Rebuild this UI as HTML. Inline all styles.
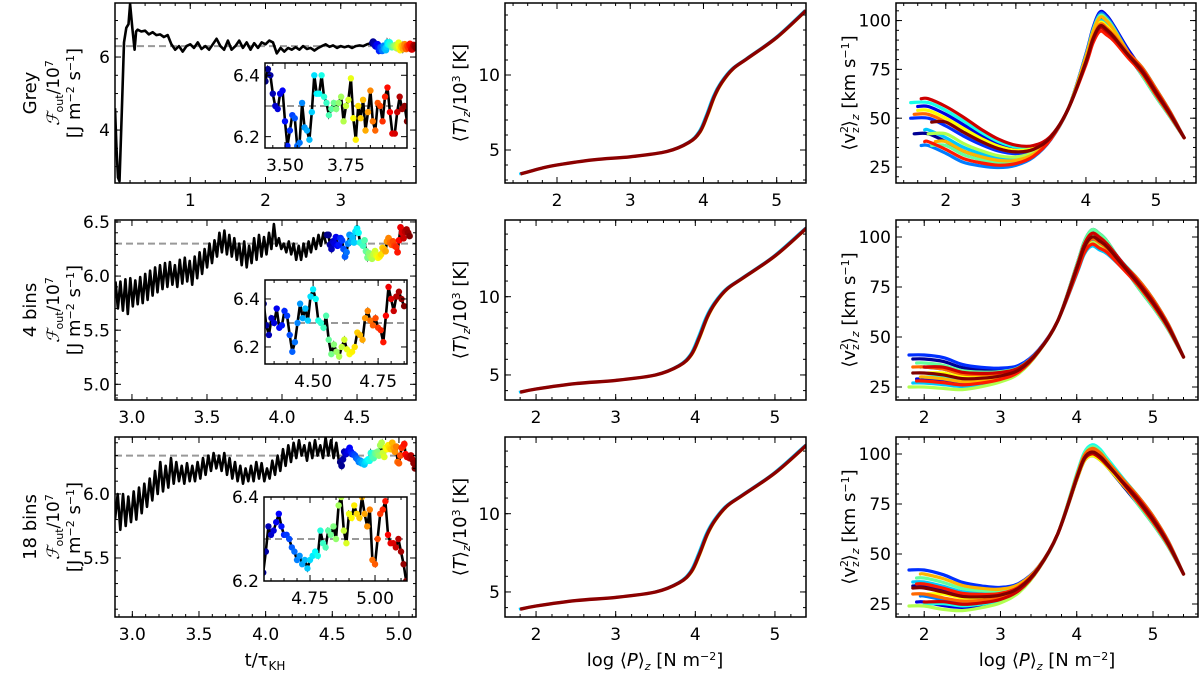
<!DOCTYPE html>
<html><head><meta charset="utf-8"><style>
html,body{margin:0;padding:0;background:#fff;}
svg{display:block;font-family:"DejaVu Sans","Liberation Sans",sans-serif;}
</style></head><body>
<svg id="fig" width="1200" height="674" viewBox="0 0 1200 674" xmlns="http://www.w3.org/2000/svg"></svg>
<script>
// ---------- DATA ----------
const greyEarlyT = [0,0.02,0.04,0.06,0.09,0.12,0.15,0.18,0.20,0.23,0.26,0.28];
const greyEarlyF = [4.6,3.5,2.7,2.6,4.5,6.4,6.8,6.9,7.45,6.8,6.2,6.7];
const greyT0 = 0.30, greyDt = 0.05;
const greyF = [6.75,6.7,6.72,6.62,6.68,6.6,6.62,6.55,6.6,6.35,6.2,6.3,6.15,6.3,6.35,6.25,6.4,6.22,6.3,6.2,6.35,6.5,6.3,6.2,6.45,6.2,6.3,6.45,6.25,6.4,6.2,6.38,6.25,6.4,6.35,6.45,6.4,6.1,6.25,6.15,6.25,6.2,6.27,6.2,6.3,6.22,6.25,6.18,6.25,6.3,6.35,6.28,6.32,6.25,6.3,6.27,6.3,6.25,6.3,6.32,6.3,6.35,6.38,6.4];
const greyColT0 = 3.42, greyColDt = 0.01;
const greyColF = [6.38,6.42,6.40,6.34,6.30,6.29,6.34,6.35,6.25,6.17,6.22,6.27,6.26,6.17,6.18,6.31,6.23,6.22,6.19,6.28,6.40,6.34,6.34,6.40,6.33,6.31,6.27,6.29,6.31,6.29,6.31,6.33,6.25,6.30,6.32,6.39,6.26,6.19,6.30,6.26,6.32,6.22,6.28,6.35,6.25,6.22,6.31,6.30,6.25,6.33,6.36,6.28,6.21,6.21,6.28,6.33,6.29,6.30,6.25];
const bin4T0 = 2.89, bin4Dt = 0.0165;
const bin4F = [5.95,5.70,5.95,5.68,5.97,5.65,5.98,5.72,5.96,5.74,5.99,5.75,6.02,5.78,6.05,5.82,6.08,5.85,6.10,5.88,6.12,5.90,6.13,5.92,6.10,5.90,6.15,5.93,6.17,5.95,6.14,5.92,6.18,5.98,6.22,6.02,6.25,6.08,6.30,6.12,6.33,6.18,6.40,6.22,6.42,6.20,6.38,6.18,6.35,6.15,6.30,6.10,6.32,6.08,6.28,6.12,6.35,6.15,6.38,6.18,6.36,6.20,6.40,6.25,6.48,6.28,6.35,6.25,6.30,6.22,6.32,6.20,6.30,6.15,6.28,6.15,6.30,6.18,6.32,6.22,6.35,6.25,6.38,6.28,6.40,6.30];
const bin4ColT0 = 4.30, bin4ColDt = 0.01;
const bin4ColF = [6.38,6.38,6.29,6.25,6.32,6.30,6.36,6.28,6.29,6.35,6.33,6.25,6.18,6.22,6.30,6.38,6.32,6.36,6.31,6.41,6.44,6.40,6.31,6.30,6.28,6.33,6.23,6.17,6.21,6.18,6.16,6.20,6.23,6.19,6.17,6.18,6.20,6.26,6.25,6.23,6.32,6.35,6.31,6.29,6.32,6.28,6.27,6.22,6.33,6.45,6.40,6.35,6.41,6.43,6.40,6.37];
const bin18T0 = 2.87, bin18Dt = 0.02;
const bin18F = [5.80,6.00,5.72,6.00,5.75,5.98,5.78,6.02,5.80,6.05,5.85,6.08,5.90,6.12,5.95,6.18,6.00,6.25,6.02,6.22,6.05,6.28,6.08,6.25,6.10,6.22,6.08,6.24,6.10,6.22,6.10,6.25,6.12,6.28,6.15,6.30,6.18,6.32,6.20,6.30,6.18,6.32,6.15,6.28,6.12,6.25,6.10,6.22,6.08,6.20,6.10,6.22,6.10,6.25,6.12,6.24,6.10,6.20,6.12,6.26,6.15,6.30,6.18,6.35,6.22,6.38,6.25,6.40,6.28,6.42,6.30,6.38,6.26,6.40,6.28,6.42,6.30,6.38,6.28,6.44,6.30,6.42,6.28,6.40,6.25];
const bin18ColT0 = 4.56, bin18ColDt = 0.01;
const bin18ColF = [6.25,6.22,6.27,6.33,6.31,6.32,6.34,6.36,6.33,6.31,6.31,6.30,6.28,6.27,6.25,6.26,6.24,6.25,6.23,6.25,6.26,6.27,6.26,6.32,6.29,6.28,6.32,6.31,6.33,6.30,6.38,6.40,6.32,6.29,6.36,6.35,6.38,6.36,6.35,6.40,6.36,6.33,6.37,6.25,6.24,6.30,6.36,6.37,6.39,6.31,6.29,6.29,6.28,6.30,6.27,6.24,6.20];
const targetFlux = 6.3;
const tempLogP = [1.5,1.8,2.0,2.5,3.0,3.5,3.8,3.95,4.05,4.15,4.25,4.4,4.6,5.0,5.4];
const tempRow1 = [3.4,3.8,4.0,4.35,4.55,4.9,5.5,6.2,7.3,8.6,9.5,10.4,11.1,12.5,14.3];
const tempRow23 = [3.4,3.9,4.1,4.45,4.65,5.0,5.6,6.3,7.4,8.7,9.6,10.5,11.2,12.6,14.4];
const velLogP = [1.5,1.75,2.0,2.25,2.5,2.75,3.0,3.25,3.5,3.75,4.0,4.1,4.2,4.3,4.4,4.6,4.8,5.0,5.2,5.4];
const velRow1 = [50,48,44,39,35,32,31,33,40,55,80,92,99,97,93,83,74,63,52,40];
const velRow2 = [32,32,33,32,30,30,31,34,43,58,84,95,100,98,95,86,77,67,55,40];
const velRow3 = [32,32,32,30,28,28,29,33,43,60,88,98,101,99,95,86,77,67,55,40];
const velRow1Start = [1.55,1.6,1.5,1.65,1.7,1.5,1.8,1.75,1.6,1.85,1.55,1.7,1.65,1.8];
const velRow1Low = [-6,8,2,-12,-4,10,-8,-2,6,-6,4,-10,12,4];
const velRow1Peak = [2,6,-3,5,1,-2,4,-4,0,3,-1,-5,-3,-2];
const velRow23Start = [1.85,1.9,1.8,1.95,1.85,2.0,1.9,1.8,2.05,1.95,1.85,1.9,2.0,1.85];
const velRow2Low = [6,-4,8,2,-6,-2,4,-8,0,-3,2,-5,3,-1];
const velRow2Peak = [4,2,-2,3,-5,1,4,-3,0,2,-1,-4,2,0];
const velRow3Low = [2,-6,10,-3,4,-5,6,-8,0,8,-2,3,-4,1];
const velRow3Peak = [-2,0,2,3,-1,4,3,1,-2,1,2,0,-1,0];
const velTailSpread = [-2,1,2,-1,0,2,-2,1,-1,0,2,-1,1,0];

// ---------- HELPERS ----------
const svg = document.getElementById('fig');
const NS = 'http://www.w3.org/2000/svg';
function mk(tag, attrs, parent){const e=document.createElementNS(NS,tag);for(const k in attrs)e.setAttribute(k,attrs[k]);(parent||svg).appendChild(e);return e;}
function jet(t){t=Math.max(0,Math.min(1,t));const r=Math.min(4*t-1.5,-4*t+4.5),g=Math.min(4*t-0.5,-4*t+3.5),b=Math.min(4*t+0.5,-4*t+2.5);const c=v=>Math.round(255*Math.max(0,Math.min(1,v)));return `rgb(${c(r)},${c(g)},${c(b)})`;}
let clipId=0;
function axes(o){
  const sx=v=>o.x0+(v-o.xmin)/(o.xmax-o.xmin)*(o.x1-o.x0);
  const sy=v=>o.y1-(v-o.ymin)/(o.ymax-o.ymin)*(o.y1-o.y0);
  const g=mk('g',{});
  
  
  const id='c'+(clipId++);
  const cp=mk('clipPath',{id:id},g);mk('rect',{x:o.x0,y:o.y0,width:o.x1-o.x0,height:o.y1-o.y0},cp);
  const plot=mk('g',{'clip-path':`url(#${id})`},g);
  return {sx,sy,g,plot,o};
}
function frame(A){
  const o=A.o,g=A.g,fs=o.fs||17;
  const tk=mk('g',{stroke:'#000','stroke-width':1},g);
  
  
  const eps=1e-9;
  if(o.xminor){for(let v=Math.ceil(o.xmin/o.xminor)*o.xminor;v<=o.xmax+eps;v+=o.xminor){const x=A.sx(v);mk('line',{x1:x,x2:x,y1:o.y1,y2:o.y1-3},tk);mk('line',{x1:x,x2:x,y1:o.y0,y2:o.y0+3},tk);}}
  if(o.yminor){for(let v=Math.ceil(o.ymin/o.yminor)*o.yminor;v<=o.ymax+eps;v+=o.yminor){const y=A.sy(v);mk('line',{x1:o.x0,x2:o.x0+3,y1:y,y2:y},tk);mk('line',{x1:o.x1,x2:o.x1-3,y1:y,y2:y},tk);}}
  o.xt.forEach((v,i)=>{const x=A.sx(v);mk('line',{x1:x,x2:x,y1:o.y1,y2:o.y1-6},tk);mk('line',{x1:x,x2:x,y1:o.y0,y2:o.y0+6},tk);
    const t=mk('text',{x:x,y:o.y1+fs+6,'text-anchor':'middle','font-size':fs},g);t.textContent=o.xl[i];
    });
  o.yt.forEach((v,i)=>{const y=A.sy(v);mk('line',{x1:o.x0,x2:o.x0+6,y1:y,y2:y},tk);mk('line',{x1:o.x1,x2:o.x1-6,y1:y,y2:y},tk);
    const t=mk('text',{x:o.x0-5,y:y+fs*0.36,'text-anchor':'end','font-size':fs},g);t.textContent=o.yl[i];
    });
  const r=mk('rect',{x:o.x0,y:o.y0,width:o.x1-o.x0,height:o.y1-o.y0,fill:'none',stroke:'#000','stroke-width':1.5},g);
  
}
function pathD(A,xs,ys){return xs.map((x,i)=>(i?'L':'M')+A.sx(x).toFixed(1)+','+A.sy(ys[i]).toFixed(1)).join('');}
function seq(t0,dt,n){const a=[];for(let i=0;i<n;i++)a.push(t0+i*dt);return a;}
function dashed(A,v){const o=A.o;const l=mk('line',{x1:o.x0,x2:o.x1,y1:A.sy(v),y2:A.sy(v),stroke:'#999','stroke-width':2,'stroke-dasharray':'7,4'},A.plot);
  }
function fluxPanel(A, blackT, blackF, colT, colF, rad){
  dashed(A,targetFlux);
  const p=mk('path',{d:pathD(A,blackT,blackF),fill:'none',stroke:'#000','stroke-width':2.6,'stroke-linejoin':'round'},A.plot);
  
  const p2=mk('path',{d:pathD(A,colT,colF),fill:'none',stroke:'#000','stroke-width':2.6},A.plot);
  
  colT.forEach((t,i)=>{const c=mk('circle',{cx:A.sx(t),cy:A.sy(colF[i]),r:rad,fill:jet(i/(colT.length-1))},A.plot);
    });
}
function smooth(A,xs,ys){
  const P=xs.map((x,i)=>[A.sx(x),A.sy(ys[i])]);let d='M'+P[0][0].toFixed(1)+','+P[0][1].toFixed(1);
  for(let i=0;i<P.length-1;i++){const p0=P[Math.max(0,i-1)],p1=P[i],p2=P[i+1],p3=P[Math.min(P.length-1,i+2)];
    d+=`C${(p1[0]+(p2[0]-p0[0])/6).toFixed(1)},${(p1[1]+(p2[1]-p0[1])/6).toFixed(1)} ${(p2[0]-(p3[0]-p1[0])/6).toFixed(1)},${(p2[1]-(p3[1]-p1[1])/6).toFixed(1)} ${p2[0].toFixed(1)},${p2[1].toFixed(1)}`;}
  return d;}
function wLow(x){return Math.max(0,Math.min(1,(3.6-x)/1.4));}
function wPeak(x){return Math.max(0,1-Math.abs(x-4.25)/0.5);}
function wTail(x){return Math.max(0,Math.min(1,(x-4.4)/0.4))*Math.max(0,Math.min(1,(5.4-x)/0.3));}
function velPanel(A, base, starts, lows, peaks){
  starts.forEach((s,k)=>{
    const xs=[],ys=[];
    velLogP.forEach((x,i)=>{if(x>s+0.02){ if(!xs.length){xs.push(s);ys.push(base[i]+lows[k]*wLow(s));} xs.push(x);ys.push(base[i]+lows[k]*wLow(x)+peaks[k]*wPeak(x)+velTailSpread[k]*wTail(x));}});
    const col=jet(k/(starts.length-1)*0.98+0.02);
    const p=mk('path',{d:smooth(A,xs,ys),fill:'none',stroke:col,'stroke-width':3.2,'stroke-linecap':'round','stroke-linejoin':'round'},A.plot);
    
  });
}
function tempPanel(A,ys,startX){
  const xs=[],yy=[];tempLogP.forEach((x,i)=>{if(x>=startX-1e-6){xs.push(x);yy.push(ys[i]);}});
  [['#00c8ff',-0.08],['#ffcc00',0.05],['#8b0000',0]].forEach(([c,dx],k)=>{
    const p=mk('path',{d:smooth(A,xs.map(x=>x+dx*0.2),yy),fill:'none',stroke:c,'stroke-width':k==2?3.4:2.6},A.plot);
    });
}
function text(x,y,s,opts,name){const t=mk('text',Object.assign({x:x,y:y,'text-anchor':'middle','font-size':16},opts||{}));t.innerHTML=s;
  return t;}

// ---------- ROW 1 ----------
let A=axes({name:'grey-flux-panel',x0:115,x1:416,y0:3,y1:183,xmin:0,xmax:4.0,ymin:2.55,ymax:7.48,xt:[1,2,3],xl:['1','2','3'],yt:[4,6],yl:['4','6'],xminor:0.2,yminor:0.5});
fluxPanel(A,greyEarlyT.concat(seq(greyT0,greyDt,greyF.length)),greyEarlyF.concat(greyF),seq(greyColT0,greyColDt,greyColF.length),greyColF,3.4);frame(A);
A=axes({name:'grey-flux-inset',x0:265,x1:407,y0:63,y1:148,xmin:3.418,xmax:4.0,ymin:6.163,ymax:6.44,xt:[3.5,3.75],xl:['3.50','3.75'],yt:[6.2,6.4],yl:['6.2','6.4'],xminor:0.05});
mk('rect',{x:265,y:63,width:142,height:85,fill:'#fff'},A.plot);
fluxPanel(A,[],[],seq(greyColT0,greyColDt,greyColF.length),greyColF,3.2);frame(A);
A=axes({name:'grey-temperature-panel',x0:505,x1:806,y0:3,y1:183,xmin:1.29,xmax:5.40,ymin:2.8,ymax:14.8,xt:[2,3,4,5],xl:['2','3','4','5'],yt:[5,10],yl:['5','10'],xminor:0.2,yminor:1});
tempPanel(A,tempRow1,1.5);frame(A);
A=axes({name:'grey-velocity-panel',x0:896,x1:1196,y0:3,y1:183,xmin:1.29,xmax:5.57,ymin:16.8,ymax:109,xt:[2,3,4,5],xl:['2','3','4','5'],yt:[25,50,75,100],yl:['25','50','75','100'],xminor:0.2,yminor:5});
velPanel(A,velRow1,velRow1Start,velRow1Low,velRow1Peak);frame(A);

// ---------- ROW 2 ----------
A=axes({name:'bins4-flux-panel',x0:115,x1:416,y0:220,y1:400,xmin:2.887,xmax:4.893,ymin:4.855,ymax:6.518,xt:[3,3.5,4,4.5],xl:['3.0','3.5','4.0','4.5'],yt:[5,5.5,6,6.5],yl:['5.0','5.5','6.0','6.5'],xminor:0.1,yminor:0.1});
fluxPanel(A,seq(bin4T0,bin4Dt,bin4F.length),bin4F,seq(bin4ColT0,bin4ColDt,bin4ColF.length),bin4ColF,3.4);frame(A);
A=axes({name:'bins4-flux-inset',x0:265,x1:407,y0:280,y1:364,xmin:4.315,xmax:4.861,ymin:6.129,ymax:6.479,xt:[4.5,4.75],xl:['4.50','4.75'],yt:[6.2,6.4],yl:['6.2','6.4'],xminor:0.05});
mk('rect',{x:265,y:280,width:142,height:84,fill:'#fff'},A.plot);
fluxPanel(A,[],[],seq(bin4ColT0,bin4ColDt,bin4ColF.length),bin4ColF,3.2);frame(A);
A=axes({name:'bins4-temperature-panel',x0:505,x1:806,y0:220,y1:400,xmin:1.61,xmax:5.39,ymin:3.4,ymax:14.9,xt:[2,3,4,5],xl:['2','3','4','5'],yt:[5,10],yl:['5','10'],xminor:0.2,yminor:1});
tempPanel(A,tempRow23,1.8);frame(A);
A=axes({name:'bins4-velocity-panel',x0:896,x1:1198,y0:220,y1:400,xmin:1.63,xmax:5.59,ymin:18.5,ymax:108.5,xt:[2,3,4,5],xl:['2','3','4','5'],yt:[25,50,75,100],yl:['25','50','75','100'],xminor:0.2,yminor:5});
velPanel(A,velRow2,velRow23Start,velRow2Low,velRow2Peak);frame(A);

// ---------- ROW 3 ----------
A=axes({name:'bins18-flux-panel',x0:115,x1:416,y0:437,y1:617,xmin:2.87,xmax:5.128,ymin:5.039,ymax:6.445,xt:[3,3.5,4,4.5,5],xl:['3.0','3.5','4.0','4.5','5.0'],yt:[5.5,6.0],yl:['5.5','6.0'],xminor:0.1,yminor:0.1});
fluxPanel(A,seq(bin18T0,bin18Dt,bin18F.length),bin18F,seq(bin18ColT0,bin18ColDt,bin18ColF.length),bin18ColF,3.4);frame(A);
A=axes({name:'bins18-flux-inset',x0:264,x1:407,y0:497,y1:581,xmin:4.573,xmax:5.123,ymin:6.2,ymax:6.4,xt:[4.75,5.0],xl:['4.75','5.00'],yt:[6.2,6.4],yl:['6.2','6.4'],xminor:0.05});
mk('rect',{x:264,y:497,width:143,height:84,fill:'#fff'},A.plot);
fluxPanel(A,[],[],seq(bin18ColT0,bin18ColDt,bin18ColF.length),bin18ColF,3.2);frame(A);
A=axes({name:'bins18-temperature-panel',x0:505,x1:806,y0:437,y1:617,xmin:1.61,xmax:5.39,ymin:3.4,ymax:14.9,xt:[2,3,4,5],xl:['2','3','4','5'],yt:[5,10],yl:['5','10'],xminor:0.2,yminor:1});
tempPanel(A,tempRow23,1.8);frame(A);
A=axes({name:'bins18-velocity-panel',x0:896,x1:1198,y0:437,y1:617,xmin:1.63,xmax:5.59,ymin:18.5,ymax:108.5,xt:[2,3,4,5],xl:['2','3','4','5'],yt:[25,50,75,100],yl:['25','50','75','100'],xminor:0.2,yminor:5});
velPanel(A,velRow3,velRow23Start,velRow3Low,velRow3Peak);frame(A);

// ---------- LABELS ----------
const rows=[[93,'Grey'],[310,'4 bins'],[527,'18 bins']];
rows.forEach(([cy,name])=>{
  text(0,0,name,{transform:`translate(36,${cy}) rotate(-90)`,'font-size':18},'row-label');
  text(0,0,'<tspan font-family="Liberation Serif,serif" font-style="italic">ℱ</tspan><tspan font-size="11" dy="4">out</tspan><tspan dy="-4">/10</tspan><tspan font-size="11" dy="-6">7</tspan>',{transform:`translate(59,${cy}) rotate(-90)`,'font-size':17},'flux-y-label');
  text(0,0,'[J m<tspan font-size="11" dy="-6">−2</tspan><tspan dy="6"> s</tspan><tspan font-size="11" dy="-6">−1</tspan><tspan dy="6">]</tspan>',{transform:`translate(80,${cy}) rotate(-90)`,'font-size':18},'flux-y-units');
  text(0,0,'⟨<tspan font-style="italic">T</tspan>⟩<tspan font-size="11" dy="4" font-style="italic">z</tspan><tspan dy="-4">/10</tspan><tspan font-size="11" dy="-6">3</tspan><tspan dy="6"> [K]</tspan>',{transform:`translate(466,${cy}) rotate(-90)`,'font-size':18},'temperature-y-label');
  text(0,0,'⟨v<tspan font-size="11" dy="-7">2</tspan><tspan font-size="11" dx="-7" dy="11">z</tspan><tspan dy="-4">⟩</tspan><tspan font-size="11" dy="4" font-style="italic">z</tspan><tspan dy="-4"> [km s</tspan><tspan font-size="11" dy="-6">−1</tspan><tspan dy="6">]</tspan>',{transform:`translate(855,${cy}) rotate(-90)`,'font-size':18},'velocity-y-label');
});
text(265,666,'t/τ<tspan font-size="12" dy="4">KH</tspan>',{'font-size':18},'time-x-label');
text(655,666,'log ⟨<tspan font-style="italic">P</tspan>⟩<tspan font-size="11" dy="4" font-style="italic">z</tspan><tspan dy="-4"> [N m</tspan><tspan font-size="11" dy="-6">−2</tspan><tspan dy="6">]</tspan>',{'font-size':18},'pressure-x-label');
text(1047,666,'log ⟨<tspan font-style="italic">P</tspan>⟩<tspan font-size="11" dy="4" font-style="italic">z</tspan><tspan dy="-4"> [N m</tspan><tspan font-size="11" dy="-6">−2</tspan><tspan dy="6">]</tspan>',{'font-size':18},'pressure-x-label');
</script>
</body></html>
